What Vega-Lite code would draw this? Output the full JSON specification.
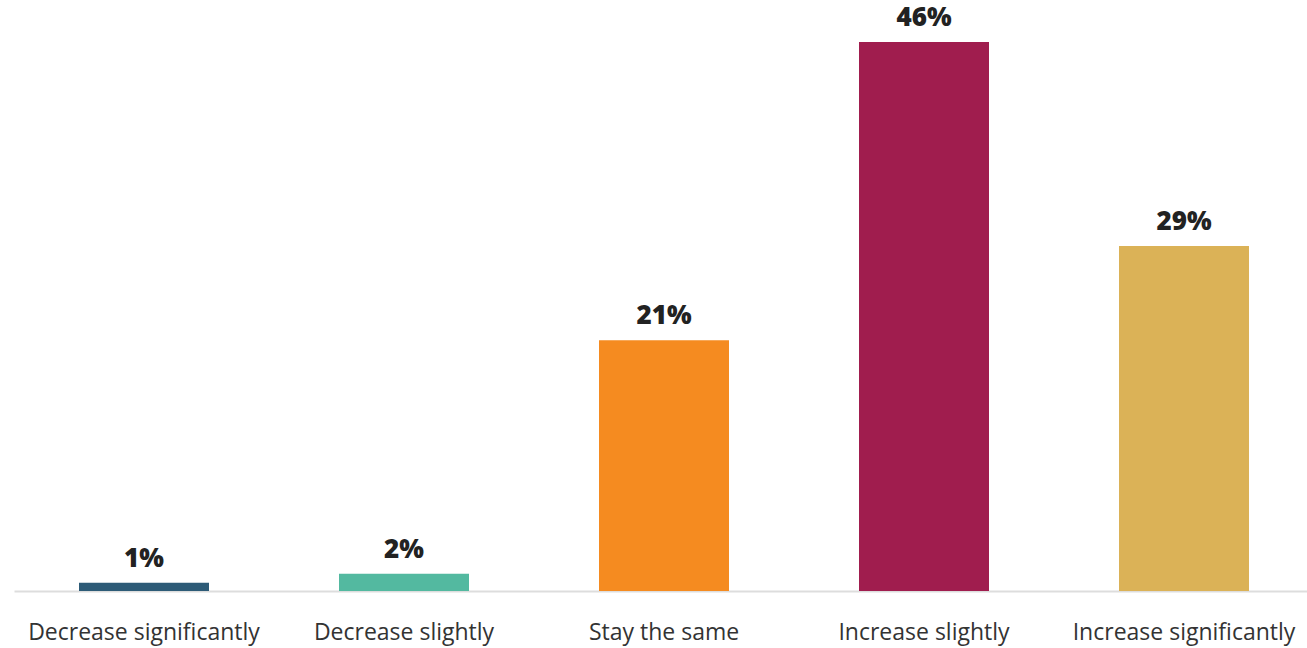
{
  "$schema": "https://vega.github.io/schema/vega-lite/v6.json",
  "autosize": "none",
  "width": 1300,
  "height": 549,
  "padding": {"left": 14, "top": 42, "right": 0, "bottom": 57},
  "background": "white",
  "config": {"view": {"stroke": null}},
  "data": {
    "values": [
      {"category": "Decrease significantly", "value": 0.7, "label": "1%"},
      {"category": "Decrease slightly", "value": 1.45, "label": "2%"},
      {"category": "Stay the same", "value": 21, "label": "21%"},
      {"category": "Increase slightly", "value": 46, "label": "46%"},
      {"category": "Increase significantly", "value": 28.9, "label": "29%"}
    ]
  },
  "encoding": {
    "x": {
      "field": "category",
      "type": "nominal",
      "sort": null,
      "scale": {"paddingInner": 0.5, "paddingOuter": 0.25},
      "axis": {
        "title": null,
        "labelAngle": 0,
        "labelFont": "Open Sans",
        "labelFontSize": 23,
        "labelColor": "#333333",
        "labelPadding": 30,
        "labelLimit": 0,
        "labelBaseline": "top",
        "ticks": false,
        "domainColor": "#dddddd",
        "domainWidth": 2
      }
    },
    "y": {
      "field": "value",
      "type": "quantitative",
      "scale": {"domain": [0, 46], "nice": false},
      "axis": null
    }
  },
  "layer": [
    {
      "mark": {"type": "bar"},
      "encoding": {
        "color": {
          "field": "category",
          "type": "nominal",
          "sort": null,
          "scale": {
            "domain": ["Decrease significantly", "Decrease slightly", "Stay the same", "Increase slightly", "Increase significantly"],
            "range": ["#2d5b77", "#53b9a0", "#f58b20", "#a01d4e", "#dbb257"]
          },
          "legend": null
        }
      }
    },
    {
      "mark": {
        "type": "text",
        "baseline": "alphabetic",
        "dy": -16,
        "font": "Open Sans",
        "fontWeight": 800,
        "fontSize": 26,
        "color": "#222222"
      },
      "encoding": {"text": {"field": "label"}}
    }
  ]
}
